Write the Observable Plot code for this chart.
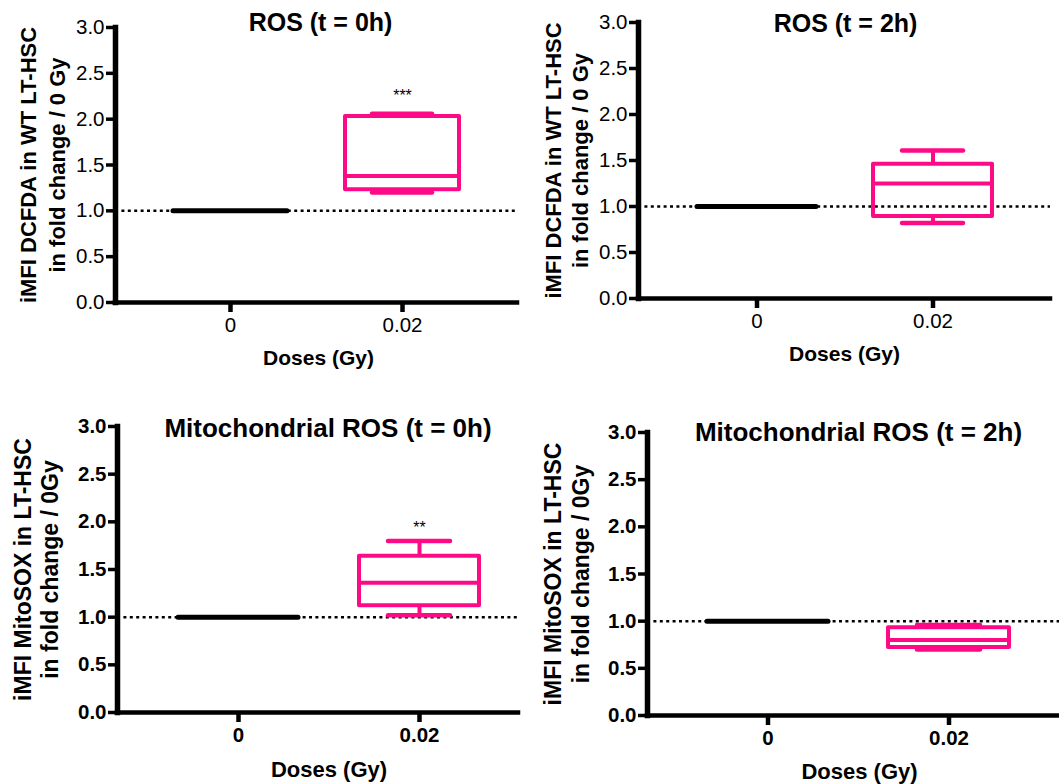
<!DOCTYPE html>
<html>
<head>
<meta charset="utf-8">
<script src="https://cdn.jsdelivr.net/npm/d3@7"></script>
<script src="https://cdn.jsdelivr.net/npm/@observablehq/plot@0.6"></script>
<style>
  body { margin: 0; background: #fff; }
  #fig { position: relative; width: 1059px; height: 784px; overflow: hidden; background: #fff; }
  .panel { position: absolute; }
</style>
</head>
<body>
<div id="fig"></div>
<script>
// ---------- data ----------
const doses = ["0", "0.02"];
const yTicks = [0, 0.5, 1, 1.5, 2, 2.5, 3];

// ROS (t = 0h)
const ros0hMin = [1.00, 1.20];
const ros0hQ1 = [1.00, 1.23];
const ros0hMed = [1.00, 1.38];
const ros0hQ3 = [1.00, 2.03];
const ros0hMax = [1.00, 2.06];

// ROS (t = 2h)
const ros2hMin = [1.00, 0.82];
const ros2hQ1 = [1.00, 0.89];
const ros2hMed = [1.00, 1.25];
const ros2hQ3 = [1.00, 1.46];
const ros2hMax = [1.00, 1.61];

// Mitochondrial ROS (t = 0h)
const mito0hMin = [1.00, 1.02];
const mito0hQ1 = [1.00, 1.12];
const mito0hMed = [1.00, 1.36];
const mito0hQ3 = [1.00, 1.64];
const mito0hMax = [1.00, 1.80];

// Mitochondrial ROS (t = 2h)
const mito2hMin = [1.00, 0.70];
const mito2hQ1 = [1.00, 0.72];
const mito2hMed = [1.00, 0.80];
const mito2hQ3 = [1.00, 0.93];
const mito2hMax = [1.00, 0.96];

const titles = ["ROS (t = 0h)", "ROS (t = 2h)", "Mitochondrial ROS (t = 0h)", "Mitochondrial ROS (t = 2h)"];
const yLabelsDCFDA = ["iMFI DCFDA in WT LT-HSC", "in fold change / 0 Gy"];
const yLabelsMito = ["iMFI MitoSOX in LT-HSC", "in fold change / 0Gy"];
const xLabel = "Doses (Gy)";
const stars = ["***", "", "**", ""];
const starY = [2.30, null, 1.98, null];
const referenceLevel = [1];

// ---------- drawing ----------
const PINK = "#ff0a86";
const FONT = "'Liberation Sans', Arial, Helvetica, sans-serif";

function panel(cfg) {
  const rows = doses.map((d, i) => ({
    dose: d, lo: cfg.min[i], q1: cfg.q1[i], med: cfg.med[i], q3: cfg.q3[i], hi: cfg.max[i]
  }));
  const treated = rows.filter(r => r.dose !== "0");
  const control = rows.filter(r => r.dose === "0");
  const starData = cfg.star ? [{dose: "0.02", y: cfg.starY, s: cfg.star}] : [];
  const tickWeight = cfg.boldTicks ? "bold" : "normal";

  const plot = Plot.plot({
    width: cfg.width,
    height: cfg.height,
    marginLeft: cfg.ml, marginRight: cfg.mr, marginTop: cfg.mt, marginBottom: cfg.mb,
    style: {fontFamily: FONT, background: "transparent", overflow: "visible", color: "#000"},
    x: {domain: doses, paddingInner: cfg.pi, paddingOuter: cfg.po, align: cfg.align, axis: null},
    y: {domain: [0, 3], axis: null},
    marks: [
      Plot.ruleY(referenceLevel, {stroke: "#000", strokeWidth: 2.5, strokeDasharray: "3,3.4"}),
      // whiskers
      Plot.ruleX(treated, {x: "dose", y1: "lo", y2: "q1", stroke: PINK, strokeWidth: 4}),
      Plot.ruleX(treated, {x: "dose", y1: "q3", y2: "hi", stroke: PINK, strokeWidth: 4}),
      Plot.tickY(treated, {x: "dose", y: "lo", stroke: PINK, strokeWidth: 4.5, strokeLinecap: "round", insetLeft: cfg.cap, insetRight: cfg.cap}),
      Plot.tickY(treated, {x: "dose", y: "hi", stroke: PINK, strokeWidth: 4.5, strokeLinecap: "round", insetLeft: cfg.cap, insetRight: cfg.cap}),
      // box
      Plot.barY(treated, {x: "dose", y1: "q1", y2: "q3", fill: "none", stroke: PINK, strokeWidth: 4, strokeLinejoin: "round"}),
      Plot.tickY(treated, {x: "dose", y: "med", stroke: PINK, strokeWidth: 4}),
      // control (collapsed box at 1)
      Plot.tickY(control, {x: "dose", y: "med", stroke: "#000", strokeWidth: 5, strokeLinecap: "round"}),
      // significance
      Plot.text(starData, {x: "dose", y: "y", text: "s", fontSize: 16, dy: 4, fill: "#000"}),
      // axes
      Plot.axisY({ticks: yTicks, tickFormat: d3.format(".1f"), tickSize: 9, stroke: "#000", strokeWidth: 3.5, tickPadding: 2,
                  fontSize: cfg.tickFs, fontWeight: tickWeight, fill: "#000", label: null}),
      Plot.axisX({tickSize: 10, stroke: "#000", strokeWidth: 4.5, tickPadding: 5, fontSize: cfg.tickFs, fontWeight: tickWeight, fill: "#000", label: null}),
      Plot.ruleY([0], {stroke: "#000", strokeWidth: 4.5, strokeLinecap: "square"}),
      Plot.frame({anchor: "left", stroke: "#000", strokeWidth: 5.5}),
      // title
      Plot.text([cfg.title], {frameAnchor: "top", dx: cfg.tdx, dy: cfg.tdy, lineAnchor: "middle",
                              fontSize: cfg.titleFs, fontWeight: "bold", fill: "#000"}),
      // x label
      Plot.text([xLabel], {frameAnchor: "bottom", dx: cfg.xdx, dy: cfg.xdy, lineAnchor: "middle",
                           fontSize: cfg.labFs, fontWeight: "bold", fill: "#000"}),
      // y label (two lines)
      Plot.text([cfg.ylab[0]], {frameAnchor: "left", rotate: -90, dx: cfg.y1dx, lineAnchor: "middle", textAnchor: "middle",
                                fontSize: cfg.ylabFs, fontWeight: "bold", fill: "#000"}),
      Plot.text([cfg.ylab[1]], {frameAnchor: "left", rotate: -90, dx: cfg.y2dx, lineAnchor: "middle", textAnchor: "middle",
                                fontSize: cfg.ylabFs, fontWeight: "bold", fill: "#000"})
    ]
  });
  // make axis strokes bold like the original figure
  const s = d3.select(plot);
  s.selectAll('[aria-label="y-axis tick"], [aria-label="y-axis tick"] *').attr("stroke-width", 3.5).attr("stroke", "#000");
  s.selectAll('[aria-label="x-axis tick"], [aria-label="x-axis tick"] *').attr("stroke-width", 4.5).attr("stroke", "#000");
  s.selectAll('[aria-label="frame"], [aria-label="frame"] *').attr("stroke-width", 5.5).attr("stroke", "#000").attr("clip-path", null);
  plot.classList.add("panel");
  plot.style.left = cfg.left + "px";
  plot.style.top = cfg.top + "px";
  document.getElementById("fig").appendChild(plot);
}

panel({
  left: 0, top: 0, width: 530, height: 380, ml: 115, mr: 13, mt: 27, mb: 78,
  pi: 0.335, po: 0.33, align: 0.5, cap: 27,
  min: ros0hMin, q1: ros0hQ1, med: ros0hMed, q3: ros0hQ3, max: ros0hMax,
  title: titles[0], tdx: 4, tdy: -5, xdx: 2, xdy: 56, ylab: yLabelsDCFDA, y1dx: -87, y2dx: -58,
  star: stars[0], starY: starY[0], boldTicks: false,
  tickFs: 20.5, titleFs: 25, labFs: 21, ylabFs: 22
});
panel({
  left: 530, top: 0, width: 529, height: 380, ml: 108, mr: 9, mt: 22, mb: 82,
  pi: 0.324, po: 0.33, align: 0.5, cap: 29,
  min: ros2hMin, q1: ros2hQ1, med: ros2hMed, q3: ros2hQ3, max: ros2hMax,
  title: titles[1], tdx: 1, tdy: 1, xdx: 0, xdy: 56, ylab: yLabelsDCFDA, y1dx: -85, y2dx: -58,
  star: stars[1], starY: starY[1], boldTicks: false,
  tickFs: 20.5, titleFs: 25, labFs: 21, ylabFs: 22
});
panel({
  left: 0, top: 390, width: 530, height: 394, ml: 117, mr: 12, mt: 36, mb: 72,
  pi: 0.336, po: 0.27, align: 0.61, cap: 29,
  min: mito0hMin, q1: mito0hQ1, med: mito0hMed, q3: mito0hQ3, max: mito0hMax,
  title: titles[2], tdx: 10, tdy: 2, xdx: 11, xdy: 57, ylab: yLabelsMito, y1dx: -94, y2dx: -67,
  star: stars[2], starY: starY[2], boldTicks: true,
  tickFs: 20.5, titleFs: 26, labFs: 22, ylabFs: 23
});
panel({
  left: 530, top: 390, width: 529, height: 394, ml: 117, mr: 0, mt: 42, mb: 69,
  pi: 0.33, po: 0.3, align: 0.55, cap: 29,
  min: mito2hMin, q1: mito2hQ1, med: mito2hMed, q3: mito2hQ3, max: mito2hMax,
  title: titles[3], tdx: 5, tdy: 0, xdx: 6, xdy: 56, ylab: yLabelsMito, y1dx: -94, y2dx: -66,
  star: stars[3], starY: starY[3], boldTicks: true,
  tickFs: 20.5, titleFs: 26, labFs: 22, ylabFs: 23
});
</script>
</body>
</html>
